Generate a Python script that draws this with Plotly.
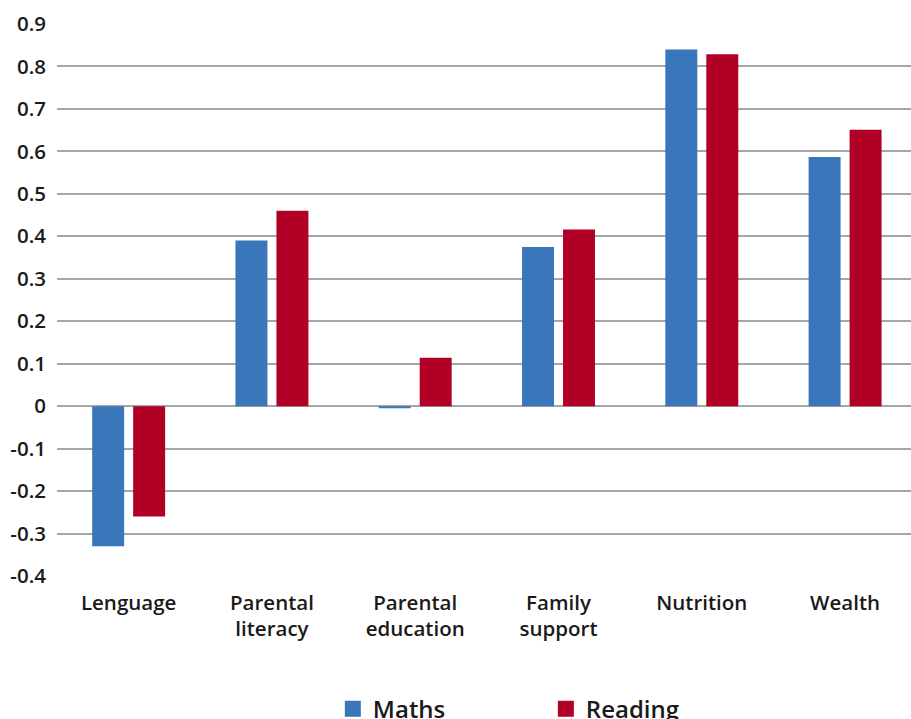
import plotly.graph_objects as go

categories = ["Lenguage", "Parental<br>literacy", "Parental<br>education", "Family<br>support", "Nutrition", "Wealth"]
maths = [-0.33, 0.39, -0.005, 0.375, 0.84, 0.587]
reading = [-0.26, 0.46, 0.114, 0.416, 0.829, 0.651]
y_ticks = [0.9, 0.8, 0.7, 0.6, 0.5, 0.4, 0.3, 0.2, 0.1, 0, -0.1, -0.2, -0.3, -0.4]
y_ticktext = ["0.9", "0.8", "0.7", "0.6", "0.5", "0.4", "0.3", "0.2", "0.1", "0", "-0.1", "-0.2", "-0.3", "-0.4"]

BLUE = "#3A76BA"
RED = "#B00026"
FONT = dict(family="Open Sans", size=20, color="#1a1a1a", weight=600)

fig = go.Figure()
fig.add_trace(go.Bar(x=categories, y=maths, name="Maths", marker=dict(color=BLUE, line=dict(width=0)), showlegend=False))
fig.add_trace(go.Bar(x=categories, y=reading, name="Reading", marker=dict(color=RED, line=dict(width=0)), showlegend=False))
# legend entries
fig.add_trace(go.Scatter(x=[None], y=[None], mode="markers", name="Maths",
                         marker=dict(symbol="square", size=20, color=BLUE)))
fig.add_trace(go.Scatter(x=[None], y=[None], mode="markers", name="Reading",
                         marker=dict(symbol="square", size=20, color=RED)))

fig.update_layout(
    width=911, height=719,
    margin=dict(l=57, r=0, t=24, b=143, autoexpand=False),
    paper_bgcolor="white", plot_bgcolor="white",
    font=FONT,
    barmode="group", bargap=0.428, bargroupgap=0.22,
    legend=dict(orientation="h", x=0.323, xanchor="left", xref="paper",
                y=0.045, yanchor="top", yref="container",
                font=dict(family="Open Sans", size=24, color="#1a1a1a", weight=600),
                entrywidth=168, entrywidthmode="pixels", itemsizing="trace"),
    xaxis=dict(range=[-0.5, 5.46], showgrid=False, showline=False, zeroline=False,
               ticks="", ticklabelstandoff=12,
               tickfont=dict(family="Open Sans", size=20.5, color="#1a1a1a", weight=600)),
    yaxis=dict(range=[-0.4, 0.9], tickvals=y_ticks, ticktext=y_ticktext,
               showgrid=True, gridcolor="#a6a6a6", gridwidth=1.5,
               zeroline=True, zerolinecolor="#a6a6a6", zerolinewidth=1.5,
               showline=False, ticks="", ticklabelstandoff=10,
               tickfont=dict(family="Open Sans", size=20.5, color="#1a1a1a", weight=600)),
)

fig.write_html("out.html")
